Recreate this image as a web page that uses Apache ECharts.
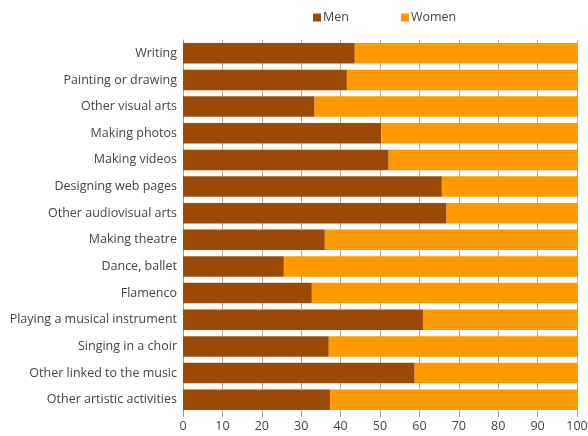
<!DOCTYPE html>
<html><head><meta charset="utf-8">
<script src="https://cdn.jsdelivr.net/npm/echarts@6/dist/echarts.min.js"></script>
<style>html,body{margin:0;padding:0;background:#fff}#c{width:588px;height:436px}</style>
</head><body><div id="c"></div>
<script>
const categories = ["Writing","Painting or drawing","Other visual arts","Making photos","Making videos","Designing web pages","Other audiovisual arts","Making theatre","Dance, ballet","Flamenco","Playing a musical instrument","Singing in a choir","Other linked to the music","Other artistic activities"];
const men = [43.6, 41.6, 33.4, 50.3, 52.2, 65.7, 66.9, 36.0, 25.6, 32.7, 60.9, 37.0, 58.8, 37.3];
const women = [56.4, 58.4, 66.6, 49.7, 47.8, 34.3, 33.1, 64.0, 74.4, 67.3, 39.1, 63.0, 41.2, 62.7];
const xTicks = [0,10,20,30,40,50,60,70,80,90,100];

const chart = echarts.init(document.getElementById('c'));
const font = '"Open Sans", sans-serif';
chart.setOption({
  animation:false,
  textStyle:{fontFamily:font},
  legend:{top:6,left:308,itemWidth:8,itemHeight:8,itemGap:52,icon:'rect',
    textStyle:{color:'#444',fontSize:12.5,fontFamily:font,padding:[0,0,0,-3]},
    data:['Men','Women']},
  grid:{left:183,right:11,top:40,bottom:23,containLabel:false,outerBoundsMode:'none'},
  xAxis:{type:'value',min:xTicks[0],max:xTicks[xTicks.length-1],interval:10,
    axisLine:{show:false},axisTick:{show:true,length:4,lineStyle:{color:'#999'}},
    splitLine:{show:true,lineStyle:{color:'#aaa',width:1}},
    axisLabel:{color:'#444',fontSize:12.5,fontFamily:font,margin:7}},
  yAxis:{type:'category',inverse:true,data:categories,
    axisLine:{show:true,lineStyle:{color:'#999'}},axisTick:{show:false},
    axisLabel:{color:'#444',fontSize:12.5,fontFamily:font,margin:6}},
  series:[
    {name:'Men',type:'bar',stack:'t',data:men,itemStyle:{color:'#9a4a06'},barCategoryGap:'23%'},
    {name:'Women',type:'bar',stack:'t',data:women,itemStyle:{color:'#ff9900'},barCategoryGap:'23%'}
  ]
});
</script></body></html>
